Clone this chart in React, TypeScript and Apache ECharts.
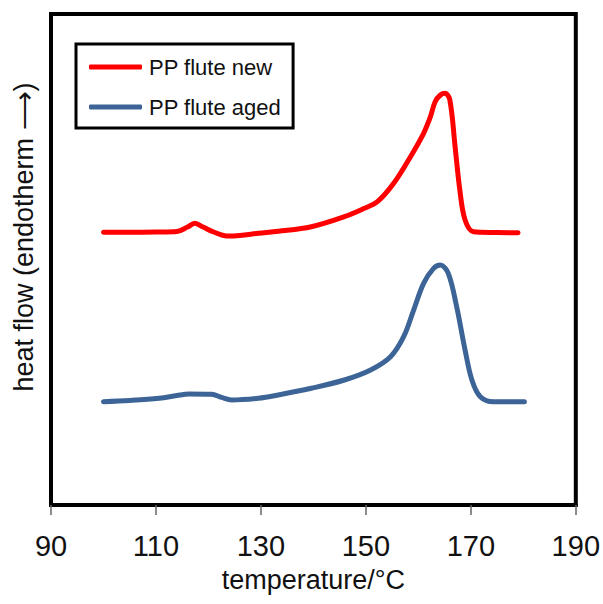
import React, { useEffect, useRef } from "react";
import * as echarts from "echarts";

const FONT = "'Liberation Sans', Arial, sans-serif";

const xTicks = [90, 110, 130, 150, 170, 190];

const newTemps = [100, 105, 110, 114, 116, 117.4, 119, 121, 123.5, 126, 129.5, 133.3, 139.6, 145.9, 149.7, 152.2, 155.3, 158.5, 161, 162.3, 163.2, 164.2, 165.1, 166, 167, 167.9, 168.9, 170.5, 175, 179];
const newFlow = [55.54, 55.56, 55.6, 55.7, 56.6, 57.37, 56.6, 55.6, 54.79, 54.9, 55.34, 55.75, 56.68, 58.72, 60.43, 61.77, 65.52, 70.94, 75.7, 79.08, 82.14, 83.5, 83.85, 82.5, 72.97, 64.15, 58.04, 55.66, 55.5, 55.46];

const agedTemps = [100, 105, 110.6, 114, 116.3, 120.6, 122.5, 124.4, 129.5, 133.3, 139.6, 145.9, 150.9, 154.7, 157.2, 159.1, 161, 162.9, 164.2, 165.7, 167.3, 168.9, 170.2, 171.8, 174.3, 178.7, 180.2];
const agedFlow = [21.04, 21.28, 21.73, 22.3, 22.6, 22.55, 21.9, 21.38, 21.73, 22.4, 23.77, 25.46, 27.5, 30.2, 34.28, 39.71, 45.15, 48.2, 48.88, 47.19, 40.39, 31.57, 25.46, 22.06, 21.04, 21.04, 21.04];

const seriesNames = ["PP flute new", "PP flute aged"];
const seriesColors = ["#ff0000", "#3c6496"];

const pair = (xs: number[], ys: number[]) => xs.map((x, i) => [x, ys[i]]);

export default function App() {
  const ref = useRef<HTMLDivElement>(null);
  useEffect(() => {
    if (!ref.current) return;
    const chart = echarts.init(ref.current, null, { renderer: "svg" });
    chart.setOption({
      animation: false,
      backgroundColor: "#ffffff",
      grid: { left: 51, right: 23, top: 14, bottom: 99, show: true, borderColor: "#000", borderWidth: 4, backgroundColor: "transparent" },
      legend: {
        left: 76,
        top: 44,
        orient: "vertical",
        borderColor: "#000",
        borderWidth: 3,
        padding: [10, 12, 8, 13],
        itemGap: 14,
        itemWidth: 53,
        itemHeight: 5,
        icon: "roundRect",
        data: seriesNames,
        textStyle: { fontFamily: FONT, fontSize: 22, lineHeight: 26, color: "#111", padding: [0, 0, 0, 2] },
      },
      xAxis: {
        type: "value",
        min: 90,
        max: 190,
        interval: 20,
        name: "temperature/°C",
        nameLocation: "middle",
        nameGap: 61,
        nameTextStyle: { fontFamily: FONT, fontSize: 27, color: "#111" },
        axisLine: { show: true, lineStyle: { color: "#000", width: 4 } },
        axisTick: { show: true, length: 10, lineStyle: { color: "#666", width: 1.5 } },
        axisLabel: {
          fontFamily: FONT,
          fontSize: 29,
          color: "#111",
          margin: 26,
          formatter: (v: number) => (xTicks.includes(v) ? String(v) : ""),
        },
        splitLine: { show: false },
      },
      yAxis: {
        type: "value",
        min: 0,
        max: 100,
        axisLine: { show: false },
        axisTick: { show: false },
        axisLabel: { show: false },
        splitLine: { show: false },
      },
      graphic: [
        {
          type: "text",
          x: 24,
          y: 237,
          rotation: Math.PI / 2,
          style: {
            text: "heat flow (endotherm \u27F6)",
            fontFamily: FONT,
            fontSize: 27,
            fill: "#111",
            align: "center",
            verticalAlign: "middle",
          },
        },
      ],
      series: [
        {
          name: seriesNames[0],
          type: "line",
          data: pair(newTemps, newFlow),
          smooth: 0.35,
          showSymbol: false,
          lineStyle: { color: seriesColors[0], width: 5, cap: "round", join: "round" },
          itemStyle: { color: seriesColors[0] },
        },
        {
          name: seriesNames[1],
          type: "line",
          data: pair(agedTemps, agedFlow),
          smooth: 0.35,
          showSymbol: false,
          lineStyle: { color: seriesColors[1], width: 5, cap: "round", join: "round" },
          itemStyle: { color: seriesColors[1] },
        },
      ],
    });
    return () => chart.dispose();
  }, []);
  return <div ref={ref} style={{ width: 603, height: 604, position: "absolute", left: 0, top: 0 }} />;
}
